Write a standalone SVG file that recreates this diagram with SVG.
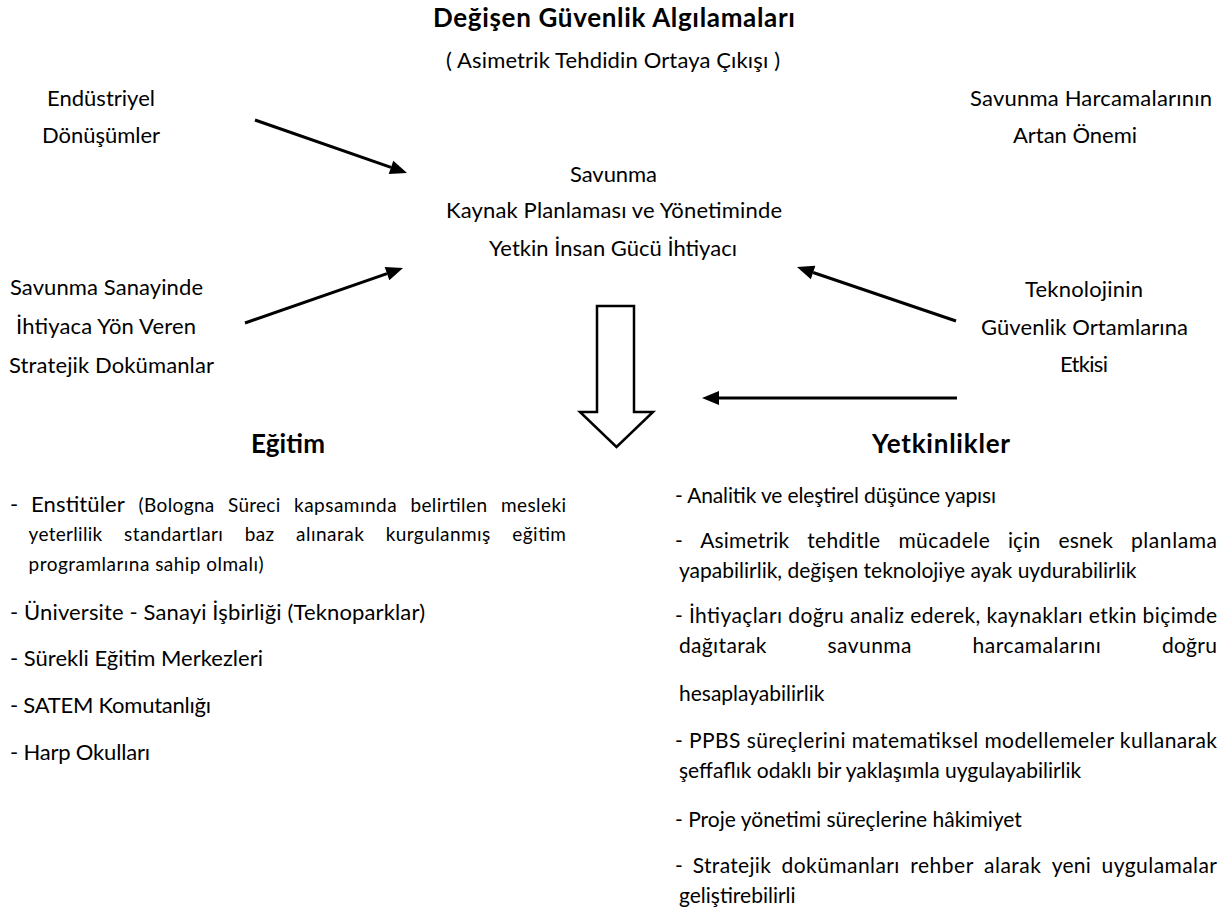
<svg xmlns="http://www.w3.org/2000/svg" width="1228" height="919" viewBox="0 0 1228 919">
<style>
text{font-family:Lato,"Open Sans","Liberation Sans",sans-serif;fill:#000;font-size:22px}
.b{font-weight:bold;font-size:26px}
.r{font-size:21px}
.s{font-size:19px}
.m{text-anchor:middle}
.ln{stroke:#000;stroke-width:3;fill:none}
</style>
<defs>
<marker id="ah" markerUnits="userSpaceOnUse" markerWidth="18" markerHeight="15" refX="0" refY="7" orient="auto" overflow="visible">
<path d="M0,0 L17,7 L0,14 z" fill="#000"/>
</marker>
</defs>
<rect width="1228" height="919" fill="#fff"/>

<g id="title">
<text class="b m" x="614" y="27" textLength="362">Değişen Güvenlik Algılamaları</text>
<text class="m" x="613" y="68" textLength="334">( Asimetrik Tehdidin Ortaya Çıkışı )</text>
</g>

<g id="endustriyel">
<text class="m" x="101" y="106" textLength="108">Endüstriyel</text>
<text class="m" x="101" y="143" textLength="118">Dönüşümler</text>
</g>

<g id="harcamalar">
<text class="m" x="1091" y="106" textLength="242">Savunma Harcamalarının</text>
<text class="m" x="1075" y="143" textLength="124">Artan Önemi</text>
</g>

<g id="merkez">
<text class="m" x="613.5" y="182" textLength="87">Savunma</text>
<text class="m" x="614" y="218" textLength="336">Kaynak Planlaması ve Yönetiminde</text>
<text class="m" x="613" y="256" textLength="248">Yetkin İnsan Gücü İhtiyacı</text>
</g>

<g id="dokumanlar">
<text x="10" y="295" textLength="193">Savunma Sanayinde</text>
<text x="16" y="334" textLength="180">İhtiyaca Yön Veren</text>
<text x="9" y="373" textLength="205">Stratejik Dokümanlar</text>
</g>

<g id="teknoloji">
<text class="m" x="1084" y="297" textLength="118">Teknolojinin</text>
<text class="m" x="1084.5" y="335" textLength="207">Güvenlik Ortamlarına</text>
<text class="m" x="1084" y="372" textLength="48">Etkisi</text>
</g>

<g id="connectors">
<line class="ln" x1="255" y1="120" x2="391" y2="167.4" marker-end="url(#ah)"/>
<line class="ln" x1="245" y1="323" x2="387" y2="273.6" marker-end="url(#ah)"/>
<line class="ln" x1="956" y1="321" x2="813.1" y2="272.5" marker-end="url(#ah)"/>
<line class="ln" x1="957" y1="398" x2="719" y2="398" marker-end="url(#ah)"/>
<polygon points="597,306 634,306 634,412 653,412 616.5,447 580,412 597,412" fill="#fff" stroke="#000" stroke-width="2.5" stroke-linejoin="miter"/>
</g>

<g id="egitim">
<text class="b m" x="288" y="453" textLength="74">Eğitim</text>
<text x="10" y="512">-</text>
<text x="31.1" y="512" textLength="93.7">Enstitüler</text>
<text class="s" x="138.6" y="512" textLength="75.7">(Bologna</text>
<text class="s" x="228.1" y="512" textLength="52.1">Süreci</text>
<text class="s" x="294" y="512" textLength="102.6">kapsamında</text>
<text class="s" x="410.4" y="512" textLength="76.6">belirtilen</text>
<text class="s" x="500.9" y="512" textLength="65.1">mesleki</text>
<text class="s" x="28.6" y="541" textLength="73.6">yeterlilik</text>
<text class="s" x="124.1" y="541" textLength="98.8">standartları</text>
<text class="s" x="244.8" y="541" textLength="29.4">baz</text>
<text class="s" x="296.1" y="541" textLength="67.7">alınarak</text>
<text class="s" x="385.7" y="541" textLength="104.5">kurgulanmış</text>
<text class="s" x="512.2" y="541" textLength="53.8">eğitim</text>
<text class="s" x="28.6" y="571" textLength="235">programlarına sahip olmalı)</text>
<text x="10" y="620" textLength="415">- Üniversite - Sanayi İşbirliği (Teknoparklar)</text>
<text x="10" y="666" textLength="253">- Sürekli Eğitim Merkezleri</text>
<text x="10" y="713" textLength="201">- SATEM Komutanlığı</text>
<text x="10" y="760" textLength="140">- Harp Okulları</text>
</g>

<g id="yetkinlikler">
<text class="b m" x="941" y="453" textLength="138">Yetkinlikler</text>
<text class="r" x="675" y="503" textLength="321">- Analitik ve eleştirel düşünce yapısı</text>
<text class="r" x="675" y="548">-</text>
<text class="r" x="700.2" y="548" textLength="88.9">Asimetrik</text>
<text class="r" x="807.2" y="548" textLength="73">tehditle</text>
<text class="r" x="898.4" y="548" textLength="91.4">mücadele</text>
<text class="r" x="1007.9" y="548" textLength="32.3">için</text>
<text class="r" x="1058.4" y="548" textLength="54.4">esnek</text>
<text class="r" x="1130.9" y="548" textLength="86.1">planlama</text>
<text class="r" x="679" y="578">yapabilirlik, değişen teknolojiye ayak uydurabilirlik</text>
<text class="r" x="675" y="623" textLength="542">- İhtiyaçları doğru analiz ederek, kaynakları etkin biçimde</text>
<text class="r" x="679" y="653" textLength="87.4">dağıtarak</text>
<text class="r" x="827.5" y="653" textLength="84">savunma</text>
<text class="r" x="972.6" y="653" textLength="128.2">harcamalarını</text>
<text class="r" x="1161.9" y="653" textLength="55.1">doğru</text>
<text class="r" x="679" y="701">hesaplayabilirlik</text>
<text class="r" x="675" y="748" textLength="542">- PPBS süreçlerini matematiksel modellemeler kullanarak</text>
<text class="r" x="679" y="778">şeffaflık odaklı bir yaklaşımla uygulayabilirlik</text>
<text class="r" x="675" y="827">- Proje yönetimi süreçlerine hâkimiyet</text>
<text class="r" x="675" y="873">-</text>
<text class="r" x="692.8" y="873" textLength="78">Stratejik</text>
<text class="r" x="781.6" y="873" textLength="117.8">dokümanları</text>
<text class="r" x="910.2" y="873" textLength="63.1">rehber</text>
<text class="r" x="984.1" y="873" textLength="56.8">alarak</text>
<text class="r" x="1051.7" y="873" textLength="39.2">yeni</text>
<text class="r" x="1101.6" y="873" textLength="115.4">uygulamalar</text>
<text class="r" x="679" y="903">geliştirebilirli</text>
</g>
</svg>
